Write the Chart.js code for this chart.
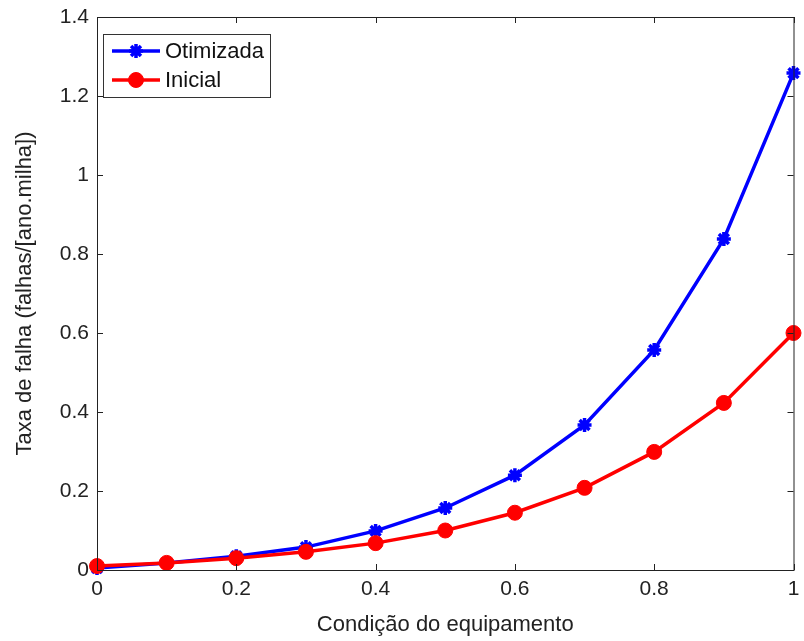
<!DOCTYPE html>
<html><head><meta charset="utf-8">
<script src="https://cdn.jsdelivr.net/npm/chart.js@4/dist/chart.umd.min.js"></script>
<style>html,body{margin:0;padding:0;background:#fff}#wrap{width:804px;height:641px}</style>
</head><body><div id="wrap"><canvas id="c" width="804" height="641"></canvas></div>
<script>
const xValues = [0, 0.1, 0.2, 0.3, 0.4, 0.5, 0.6, 0.7, 0.8, 0.9, 1.0];
const otimizada = [0.005, 0.018, 0.035, 0.058, 0.099, 0.157, 0.240, 0.367, 0.557, 0.838, 1.258];
const inicial = [0.010, 0.018, 0.030, 0.046, 0.068, 0.100, 0.145, 0.208, 0.299, 0.423, 0.600];
const seriesLabels = ['Otimizada', 'Inicial'];
const xTitle = 'Condição do equipamento';
const yTitle = 'Taxa de falha (falhas/[ano.milha])';

const FONT = '"Liberation Sans", Arial, sans-serif';
const toPts = (ys) => ys.map((y, i) => ({x: xValues[i], y}));

const frame = {
  id: 'frame',
  afterDraw(chart) {
    const {ctx, chartArea: a, scales} = chart;
    ctx.save();
    ctx.strokeStyle = '#222';
    ctx.lineWidth = 1;
    ctx.strokeRect(a.left + 0.5, a.top + 0.5, a.right - a.left, a.bottom - a.top);
    const tl = 6;
    ctx.beginPath();
    scales.x.ticks.forEach(t => {
      const px = Math.round(scales.x.getPixelForValue(t.value)) + 0.5;
      ctx.moveTo(px, a.bottom); ctx.lineTo(px, a.bottom - tl);
      ctx.moveTo(px, a.top); ctx.lineTo(px, a.top + tl);
    });
    scales.y.ticks.forEach(t => {
      const py = Math.round(scales.y.getPixelForValue(t.value)) + 0.5;
      ctx.moveTo(a.left, py); ctx.lineTo(a.left + tl, py);
      ctx.moveTo(a.right, py); ctx.lineTo(a.right - tl, py);
    });
    ctx.stroke();
    // legend box
    const bx = 103.5, by = 34.5, bw = 167, bh = 63;
    ctx.fillStyle = '#fff';
    ctx.fillRect(bx, by, bw, bh);
    ctx.strokeStyle = '#333';
    ctx.strokeRect(bx, by, bw, bh);
    const rows = [51, 80];
    chart.data.datasets.forEach((ds, i) => {
      const y = rows[i];
      ctx.strokeStyle = ds.borderColor;
      ctx.lineWidth = 3.5;
      ctx.beginPath(); ctx.moveTo(112, y); ctx.lineTo(160, y); ctx.stroke();
      ctx.fillStyle = ds.pointBackgroundColor;
      ctx.strokeStyle = ds.pointBorderColor;
      ctx.lineWidth = ds.pointBorderWidth;
      Chart.helpers.drawPoint(ctx, {pointStyle: ds.pointStyle, radius: ds.pointRadius, borderWidth: ds.pointBorderWidth}, 136, y);
      ctx.fillStyle = '#111';
      ctx.font = '22px ' + FONT;
      ctx.textBaseline = 'middle';
      ctx.fillText(ds.label, 165, y + 1);
    });
    ctx.restore();
  }
};

new Chart(document.getElementById('c'), {
  type: 'line',
  data: {
    datasets: [
      {label: seriesLabels[0], data: toPts(otimizada), borderColor: '#0000ff', backgroundColor: '#0000ff',
       pointBackgroundColor: '#0000ff', pointBorderColor: '#0000ff', pointStyle: 'star', pointRadius: 7, pointBorderWidth: 3.5,
       borderWidth: 3.5, tension: 0, clip: false, order: 2},
      {label: seriesLabels[1], data: toPts(inicial), borderColor: '#ff0000', backgroundColor: '#ff0000',
       pointBackgroundColor: '#ff0000', pointBorderColor: '#ff0000', pointStyle: 'circle', pointRadius: 7.5, pointBorderWidth: 1,
       borderWidth: 3.5, tension: 0, clip: false, order: 1}
    ]
  },
  options: {
    responsive: false, animation: false, devicePixelRatio: 1,
    layout: {padding: {top: 17, right: 7, left: 0, bottom: 0}},
    plugins: {legend: {display: false}, tooltip: {enabled: false}},
    scales: {
      x: {type: 'linear', min: 0, max: 1,
          ticks: {stepSize: 0.2, color: '#222', font: {family: FONT, size: 21}, padding: 7,
                  callback: v => Number(v.toFixed(1)).toString()},
          grid: {drawOnChartArea: false, drawTicks: false}, border: {display: false},
          title: {display: true, text: xTitle, color: '#222', font: {family: FONT, size: 22}, padding: {top: 0, bottom: 3}},
          afterFit: s => { s.height = 71; s.paddingLeft = 0; s.paddingRight = 0; }},
      y: {type: 'linear', min: 0, max: 1.4,
          ticks: {stepSize: 0.2, color: '#222', font: {family: FONT, size: 21}, padding: 8,
                  callback: v => Number(v.toFixed(1)).toString()},
          grid: {drawOnChartArea: false, drawTicks: false}, border: {display: false},
          title: {display: true, text: yTitle, color: '#222', font: {family: FONT, size: 22}, padding: {top: 12, bottom: 0}},
          afterFit: s => { s.width = 97; s.paddingTop = 0; s.paddingBottom = 0; }}
    }
  },
  plugins: [frame]
});
</script></body></html>
